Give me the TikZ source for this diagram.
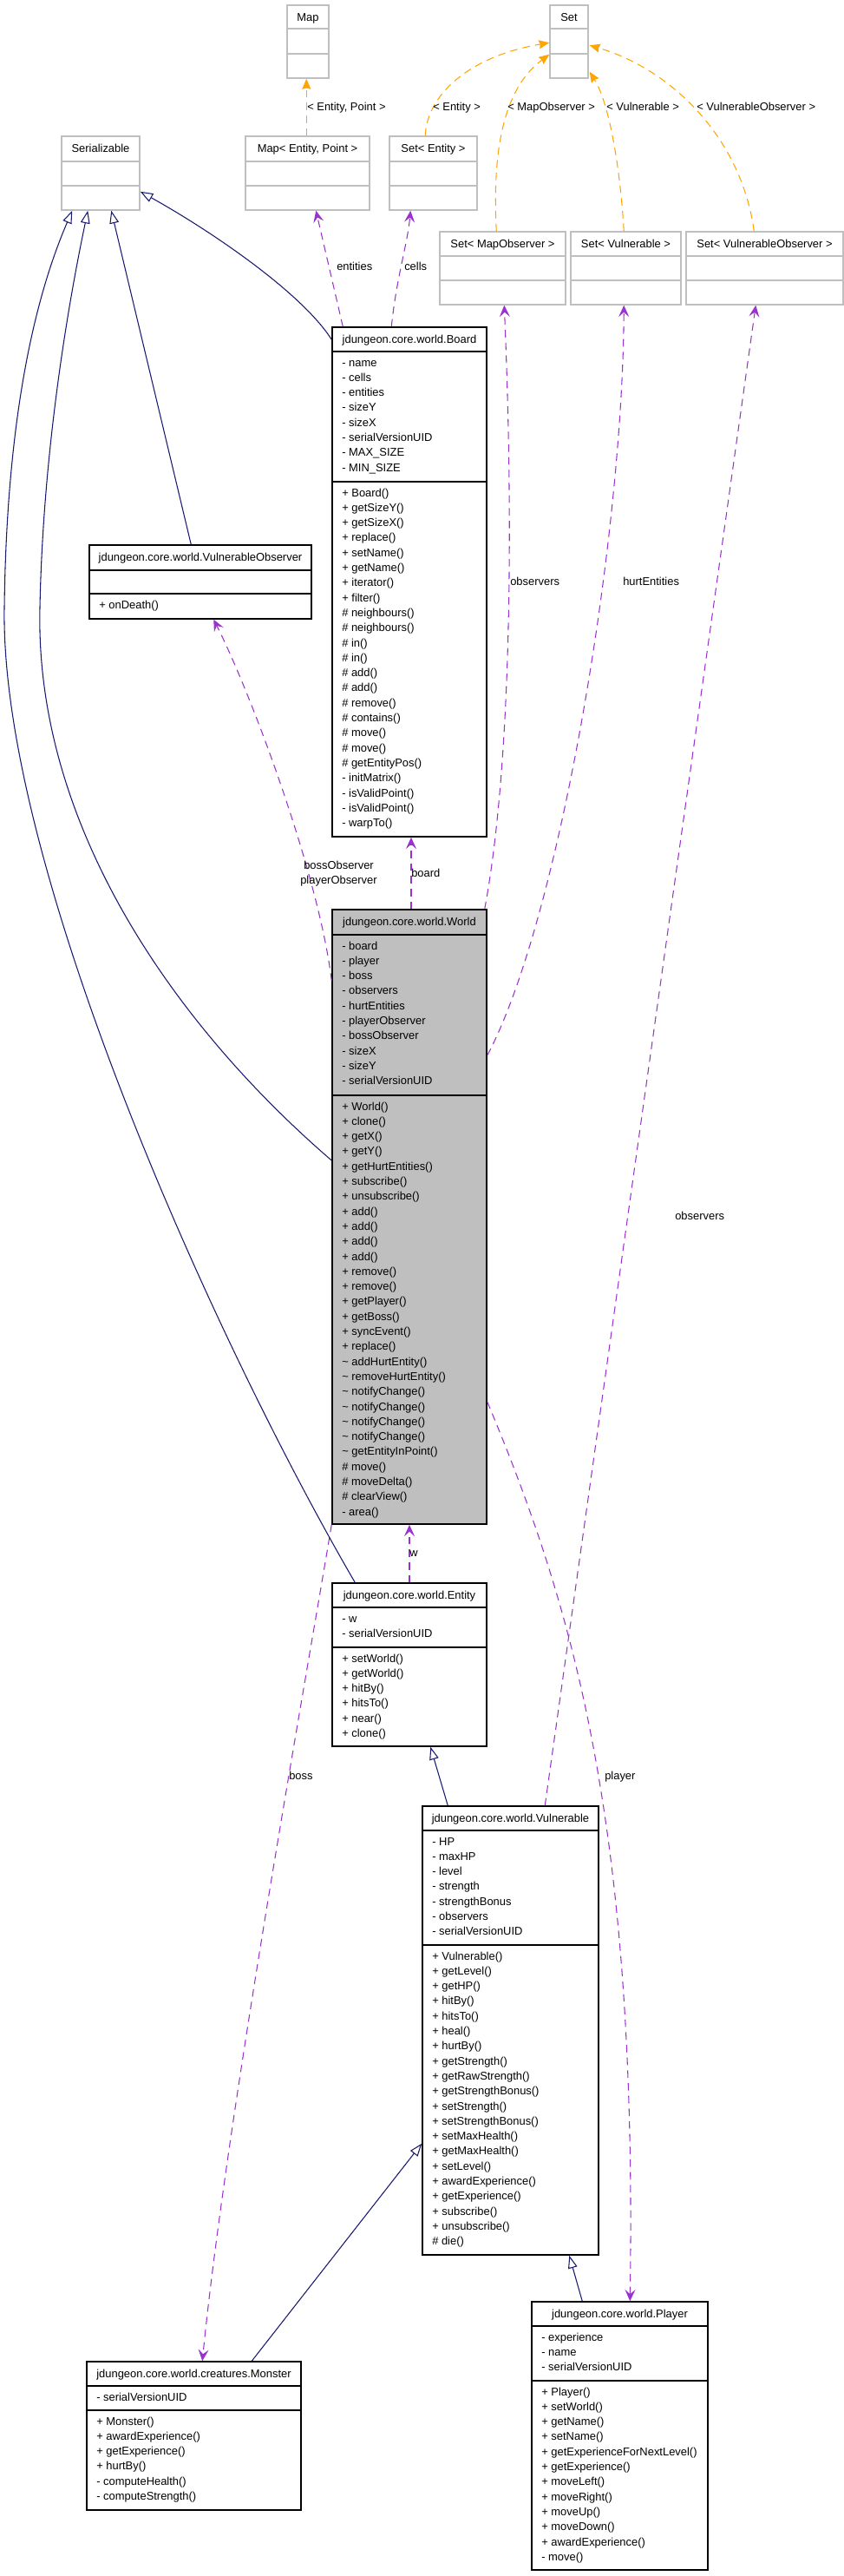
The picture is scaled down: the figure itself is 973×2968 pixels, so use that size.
\documentclass[tikz,border=0pt]{standalone}
\usepackage{fontspec}
\setmainfont{Liberation Sans}
\usetikzlibrary{arrows.meta,calc,fit}
\definecolor{inh}{HTML}{191970}
\definecolor{use}{HTML}{9A32CD}
\definecolor{tmpl}{HTML}{FFA500}
\definecolor{extgray}{HTML}{BFBFBF}
\newcommand\dxfont{\fontsize{9.7pt}{11pt}\selectfont}
\newcommand\memberlines[4]{%
  \foreach \t [count=\i from 0] in {#4}{%
    \node[member] (#3-\i) at (#1,{#2+\i*17.3}) {\t};}}
\tikzset{
  classbox/.style={draw=black, line width=1.1pt, inner sep=0pt},
  worldbox/.style={draw=black, fill=extgray, line width=1.1pt, inner sep=0pt},
  extbox/.style={draw=extgray, line width=1.1pt, inner sep=0pt},
  secline/.style={draw=black, line width=1.1pt},
  extsec/.style={draw=extgray, line width=1.1pt},
  member/.style={anchor=base west, inner sep=0pt},
  header/.style={anchor=base, inner sep=0pt},
  lbl/.style={anchor=base west, inner sep=0pt},
  lblc/.style={anchor=base, inner sep=0pt},
  inherit/.style={draw=inh, line width=0.8pt, -{Triangle[open, length=11pt, width=8pt, fill=white]}},
  usage/.style={draw=use, line width=0.8pt, dash pattern=on 6.5pt off 4.5pt, -{Stealth[length=10pt, width=9pt, inset=4pt]}},
  tmplline/.style={draw=tmpl, line width=0.8pt, dash pattern=on 6.5pt off 4.5pt, -{Stealth[length=9pt, width=7.5pt, inset=1pt]}}
}
\begin{document}
\begin{tikzpicture}[x=0.75pt, y=-0.75pt, font=\dxfont]
\useasboundingbox (0,0) rectangle (973,2968);

% ---------- external / template boxes ----------
\node[extbox, fit={(331,6)(379,90)}] (map) {};
\draw[extsec] (331,33) -- (379,33) (331,62) -- (379,62);
\node[header] (maph) at (355,24.5) {Map};

\node[extbox, fit={(634,6)(678,90)}] (set) {};
\draw[extsec] (634,33) -- (678,33) (634,62) -- (678,62);
\node[header] (seth) at (656,24.5) {Set};

\node[extbox, fit={(71,157)(161,242)}] (serial) {};
\draw[extsec] (71,186) -- (161,186) (71,214) -- (161,214);
\node[header] (serialh) at (116,175.5) {Serializable};

\node[extbox, fit={(283,157)(426,242)}] (mapep) {};
\draw[extsec] (283,186) -- (426,186) (283,214) -- (426,214);
\node[header] (mapeph) at (354.5,175.5) {Map< Entity, Point >};

\node[extbox, fit={(449,157)(550,242)}] (setent) {};
\draw[extsec] (449,186) -- (550,186) (449,214) -- (550,214);
\node[header] (setenth) at (499.5,175.5) {Set< Entity >};

\node[extbox, fit={(507,267)(652,351)}] (setmo) {};
\draw[extsec] (507,295) -- (652,295) (507,323) -- (652,323);
\node[header] (setmoh) at (579.5,285.5) {Set< MapObserver >};

\node[extbox, fit={(658,267)(785,351)}] (setv) {};
\draw[extsec] (658,295) -- (785,295) (658,323) -- (785,323);
\node[header] (setvh) at (721.5,285.5) {Set< Vulnerable >};

\node[extbox, fit={(791,267)(972,351)}] (setvo) {};
\draw[extsec] (791,295) -- (972,295) (791,323) -- (972,323);
\node[header] (setvoh) at (881.5,285.5) {Set< VulnerableObserver >};

% ---------- Board ----------
\node[classbox, fit={(383,377)(561,964)}] (board) {};
\draw[secline] (383,405) -- (561,405) (383,555) -- (561,555);
\node[header] (boardh) at (472,395.5) {jdungeon.core.world.Board};
\memberlines{394}{422}{boarda}{- name, - cells, - entities, - sizeY, - sizeX, - serialVersionUID, - MAX\_SIZE, - MIN\_SIZE}
\memberlines{394}{572}{boardm}{+ Board(), + getSizeY(), + getSizeX(), + replace(), + setName(), + getName(), + iterator(), + filter(), \# neighbours(), \# neighbours(), \# in(), \# in(), \# add(), \# add(), \# remove(), \# contains(), \# move(), \# move(), \# getEntityPos(), - initMatrix(), - isValidPoint(), - isValidPoint(), - warpTo()}

% ---------- VulnerableObserver ----------
\node[classbox, fit={(103,628)(359,713)}] (vo) {};
\draw[secline] (103,657) -- (359,657) (103,684) -- (359,684);
\node[header] (voh) at (231,646.5) {jdungeon.core.world.VulnerableObserver};
\node[member] (vom) at (114,701) {+ onDeath()};

% ---------- World ----------
\node[worldbox, fit={(383,1048)(561,1756)}] (world) {};
\draw[secline] (383,1077) -- (561,1077) (383,1262) -- (561,1262);
\node[header] (worldh) at (472,1066.5) {jdungeon.core.world.World};
\memberlines{394}{1094}{worlda}{- board, - player, - boss, - observers, - hurtEntities, - playerObserver, - bossObserver, - sizeX, - sizeY, - serialVersionUID}
\memberlines{394}{1279}{worldm}{+ World(), + clone(), + getX(), + getY(), + getHurtEntities(), + subscribe(), + unsubscribe(), + add(), + add(), + add(), + add(), + remove(), + remove(), + getPlayer(), + getBoss(), + syncEvent(), + replace(), \textasciitilde{} addHurtEntity(), \textasciitilde{} removeHurtEntity(), \textasciitilde{} notifyChange(), \textasciitilde{} notifyChange(), \textasciitilde{} notifyChange(), \textasciitilde{} notifyChange(), \textasciitilde{} getEntityInPoint(), \# move(), \# moveDelta(), \# clearView(), - area()}

% ---------- Entity ----------
\node[classbox, fit={(383,1824)(561,2012)}] (entity) {};
\draw[secline] (383,1852) -- (561,1852) (383,1898) -- (561,1898);
\node[header] (entityh) at (472,1842.5) {jdungeon.core.world.Entity};
\memberlines{394}{1869}{entitya}{- w, - serialVersionUID}
\memberlines{394}{1915}{entitym}{+ setWorld(), + getWorld(), + hitBy(), + hitsTo(), + near(), + clone()}

% ---------- Vulnerable ----------
\node[classbox, fit={(487,2081)(690,2598)}] (vuln) {};
\draw[secline] (487,2109) -- (690,2109) (487,2241) -- (690,2241);
\node[header] (vulnh) at (588.5,2099.5) {jdungeon.core.world.Vulnerable};
\memberlines{498}{2126}{vulna}{- HP, - maxHP, - level, - strength, - strengthBonus, - observers, - serialVersionUID}
\memberlines{498}{2258}{vulnm}{+ Vulnerable(), + getLevel(), + getHP(), + hitBy(), + hitsTo(), + heal(), + hurtBy(), + getStrength(), + getRawStrength(), + getStrengthBonus(), + setStrength(), + setStrengthBonus(), + setMaxHealth(), + getMaxHealth(), + setLevel(), + awardExperience(), + getExperience(), + subscribe(), + unsubscribe(), \# die()}

% ---------- Monster ----------
\node[classbox, fit={(100,2721)(347,2892)}] (monster) {};
\draw[secline] (100,2749) -- (347,2749) (100,2777) -- (347,2777);
\node[header] (monsterh) at (223.5,2739.5) {jdungeon.core.world.creatures.Monster};
\memberlines{111}{2766}{monstera}{- serialVersionUID}
\memberlines{111}{2794}{monsterm}{+ Monster(), + awardExperience(), + getExperience(), + hurtBy(), - computeHealth(), - computeStrength()}

% ---------- Player ----------
\node[classbox, fit={(613,2652)(816,2961)}] (player) {};
\draw[secline] (613,2680) -- (816,2680) (613,2743) -- (816,2743);
\node[header] (playerh) at (714.5,2670.5) {jdungeon.core.world.Player};
\memberlines{624}{2697}{playera}{- experience, - name, - serialVersionUID}
\memberlines{624}{2760}{playerm}{+ Player(), + setWorld(), + getName(), + setName(), + getExperienceForNextLevel(), + getExperience(), + moveLeft(), + moveRight(), + moveUp(), + moveDown(), + awardExperience(), - move()}

% ---------- template instantiation ----------
\draw[tmplline] ($(mapep.north west)+(71,0)$) -- ($(map.south west)+(23,0)$);
\draw[tmplline] ($(setent.north west)+(42,0)$) .. controls (492,110) and (540,65) .. ($(set.north west)+(0,44)$);
\draw[tmplline] ($(setmo.north west)+(66,0)$) .. controls (566,150) and (590,95) .. ($(set.south west)+(0,-28)$);
\draw[tmplline] ($(setv.north west)+(62,0)$) .. controls (714,180) and (700,115) .. ($(set.south east)+(1,-8)$);
\draw[tmplline] ($(setvo.north west)+(79,0)$) .. controls (855,160) and (775,80) .. ($(set.north east)+(1,47)$);
\node[lbl] (t1) at (354,127.5) {< Entity, Point >};
\node[lbl] (t2) at (499,127.5) {< Entity >};
\node[lbl] (t3) at (585,127.5) {< MapObserver >};
\node[lbl] (t4) at (699,127.5) {< Vulnerable >};
\node[lbl] (t5) at (803,127.5) {< VulnerableObserver >};

% ---------- usage ----------
\draw[usage] ($(board.north west)+(13,0)$) -- ($(mapep.south west)+(82,0)$);
\draw[usage] ($(board.north west)+(69,0)$) .. controls (457,320) and (470,280) .. ($(setent.south west)+(25,0)$);
\draw[usage] ($(world.north east)+(-3,0)$) .. controls (590,880) and (592,600) .. ($(setmo.south west)+(75,0)$);
\draw[usage] ($(world.east)+(0,-186)$) .. controls (645,1060) and (718,620) .. ($(setv.south west)+(62,0)$);
\draw[usage] ($(vuln.north west)+(142,0)$) -- ($(setvo.south west)+(81,0)$);
\draw[usage] ($(world.west)+(0,-272)$) .. controls (368,1010) and (290,800) .. ($(vo.south west)+(144,0)$);
\draw[usage] ($(world.north)+(2,0)$) -- ($(board.south)+(2,0)$);
\draw[usage] (entity.north) -- (world.south);
\draw[usage] (world.south west) .. controls (350,1950) and (260,2450) .. ($(monster.north west)+(134,0)$);
\draw[usage] ($(world.east)+(0,213)$) .. controls (660,1850) and (735,2100) .. ($(player.north west)+(114,0)$);
\node[lbl] (l1) at (388,311.5) {entities};
\node[lbl] (l2) at (466,311.5) {cells};
\node[lbl] (l3) at (588,674) {observers};
\node[lbl] (l4) at (718,674) {hurtEntities};
\node[lbl] (l5) at (778,1405.5) {observers};
\node[lblc] (l6) at (390.5,1001.5) {bossObserver};
\node[lblc] (l7) at (390.5,1018.5) {playerObserver};
\node[lbl] (l8) at (474,1010.5) {board};
\node[lbl] (l9) at (472,1793.5) {w};
\node[lbl] (l10) at (333,2050) {boss};
\node[lbl] (l11) at (697,2050.5) {player};

% ---------- inheritance ----------
\draw[inherit] ($(board.north west)+(0,15)$) .. controls (350,340) and (250,270) .. ($(serial.south east)+(0,-22)$);
\draw[inherit] ($(vo.north west)+(118,0)$) -- ($(serial.south west)+(58,0)$);
\draw[inherit] ($(world.west)+(0,-65)$) .. controls (200,1180) and (40,950) .. (46,700) .. controls (50,500) and (85,320) .. ($(serial.south west)+(31,0)$);
\draw[inherit] ($(entity.north west)+(27,0)$) .. controls (250,1550) and (0,1000) .. (5,700) .. controls (8,450) and (50,320) .. ($(serial.south west)+(13,0)$);
\draw[inherit] ($(vuln.north west)+(30,0)$) -- ($(entity.south west)+(114,0)$);
\draw[inherit] ($(monster.north west)+(191,0)$) -- ($(vuln.south west)+(0,-129)$);
\draw[inherit] ($(player.north west)+(59,0)$) -- ($(vuln.south west)+(170,0)$);
\end{tikzpicture}
\end{document}
